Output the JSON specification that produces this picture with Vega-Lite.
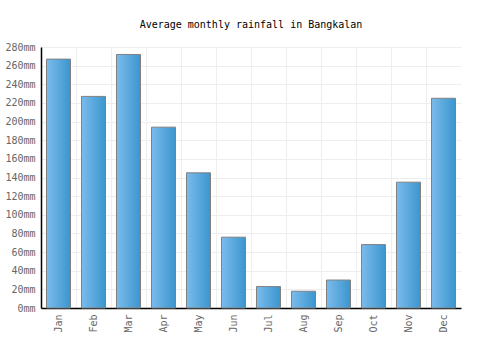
{
  "$schema": "https://vega.github.io/schema/vega-lite/v6.json",
  "width": 420,
  "height": 261,
  "autosize": {"type": "none"},
  "padding": {"left": 41, "top": 47, "right": 39, "bottom": 42},
  "background": "white",
  "title": {"text": "Average monthly rainfall in Bangkalan", "font": "DejaVu Sans Mono", "fontSize": 10, "fontWeight": "normal", "color": "#000000", "offset": 12, "anchor": "middle"},
  "data": {"values": [
    {"month": "Jan", "rain": 267},
    {"month": "Feb", "rain": 227},
    {"month": "Mar", "rain": 272},
    {"month": "Apr", "rain": 194},
    {"month": "May", "rain": 145},
    {"month": "Jun", "rain": 76},
    {"month": "Jul", "rain": 23},
    {"month": "Aug", "rain": 18},
    {"month": "Sep", "rain": 30},
    {"month": "Oct", "rain": 68},
    {"month": "Nov", "rain": 135},
    {"month": "Dec", "rain": 225}
  ]},
  "mark": {
    "type": "bar",
    "width": {"band": 0.686},
    "stroke": "#808080",
    "strokeWidth": 1,
    "fill": {"gradient": "linear", "x1": 0, "x2": 1, "y1": 0, "y2": 0, "stops": [{"offset": 0, "color": "#7cbbec"}, {"offset": 1, "color": "#3a96ce"}]}
  },
  "encoding": {
    "x": {
      "field": "month", "type": "nominal", "sort": null,
      "scale": {"paddingInner": 0, "paddingOuter": 0},
      "axis": {"title": null, "labelAngle": -90, "labelFont": "DejaVu Sans Mono", "labelFontSize": 10, "labelColor": "#666666", "ticks": false, "labelPadding": 6, "grid": true, "gridColor": "#eeeeee", "bandPosition": 0, "domainColor": "#000000", "domainWidth": 1.5}
    },
    "y": {
      "field": "rain", "type": "quantitative",
      "scale": {"domain": [0, 280], "nice": false},
      "axis": {"title": null, "values": [0,20,40,60,80,100,120,140,160,180,200,220,240,260,280], "labelExpr": "datum.value + 'mm'", "labelFont": "DejaVu Sans Mono", "labelFontSize": 10, "labelColor": "#666666", "ticks": false, "labelPadding": 6, "gridColor": "#eeeeee", "domainColor": "#000000", "domainWidth": 1.5}
    }
  },
  "config": {"view": {"stroke": null}}
}
